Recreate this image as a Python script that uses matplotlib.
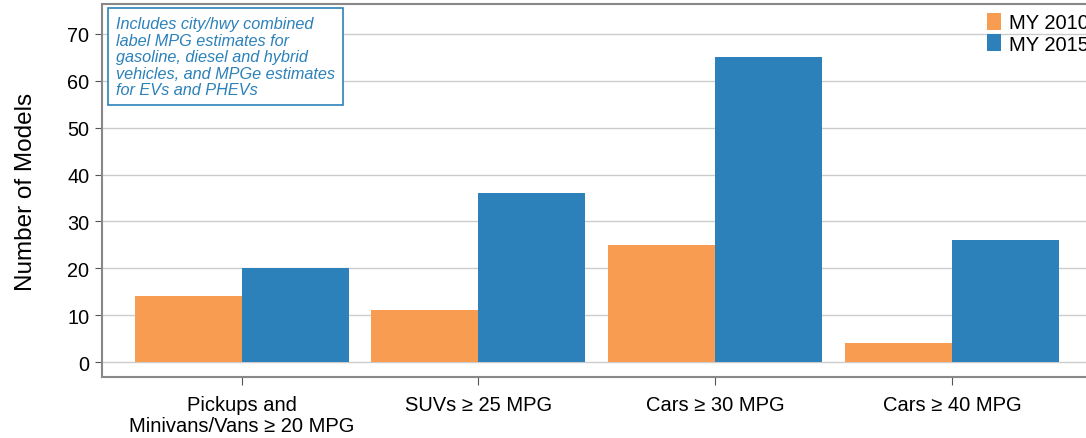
import matplotlib.pyplot as plt
import numpy as np

plt.rcParams['font.family'] = ['Liberation Sans', 'DejaVu Sans']

categories = ['Pickups and\nMinivans/Vans \u2265 20 MPG', 'SUVs \u2265 25 MPG',
              'Cars \u2265 30 MPG', 'Cars \u2265 40 MPG']
my2010 = [14, 11, 25, 4]
my2015 = [20, 36, 65, 26]
series_labels = ['MY 2010', 'MY 2015']
yticks = [0, 10, 20, 30, 40, 50, 60, 70]

c_orange = '#F79C51'
c_blue = '#2C81BA'

fig = plt.figure(figsize=(10.86, 4.39), dpi=100)
ax = fig.add_axes([102 / 1086, 61 / 439, 1 - 102 / 1086, 373 / 439])

x = np.arange(len(categories))
w = 0.452
ax.bar(x - w / 2, my2010, w, color=c_orange, label=series_labels[0], zorder=2)
ax.bar(x + w / 2, my2015, w, color=c_blue, label=series_labels[1], zorder=2)

ax.set_xlim(-0.59, 3.566)
ax.set_ylim(-3.2, 76.4)
ax.set_yticks(yticks)
ax.set_xticks(x)
ax.set_xticklabels(categories, fontsize=14.5, linespacing=1.15)
ax.tick_params(axis='y', labelsize=14.3, length=5, color='#555555', pad=4)
ax.tick_params(axis='x', length=6, color='#555555', pad=7)
ax.yaxis.grid(True, color='#cccccc', linewidth=1, zorder=0)
for s in ['left', 'top', 'bottom']:
    ax.spines[s].set_color('#888888')
    ax.spines[s].set_linewidth(1.5)
ax.spines['right'].set_visible(False)
ax.set_ylabel('Number of Models', fontsize=17.5, labelpad=22)

fig.text(116 / 1086, 1 - 17 / 439,
         'Includes city/hwy combined\nlabel MPG estimates for\ngasoline, diesel and hybrid\n'
         'vehicles, and MPGe estimates\nfor EVs and PHEVs',
         ha='left', va='top', fontsize=11.7, style='italic', color=c_blue,
         linespacing=1.13,
         bbox=dict(boxstyle='square,pad=0.5', facecolor='white', edgecolor=c_blue, linewidth=1.2))

fig.legend(loc='upper left', bbox_to_anchor=(979 / 1086, 1 - 6 / 439), frameon=False,
           fontsize=14.5, handlelength=0.7, handleheight=0.9, handletextpad=0.4,
           labelspacing=0.1, borderaxespad=0)

fig.savefig('out.png', dpi=100)
